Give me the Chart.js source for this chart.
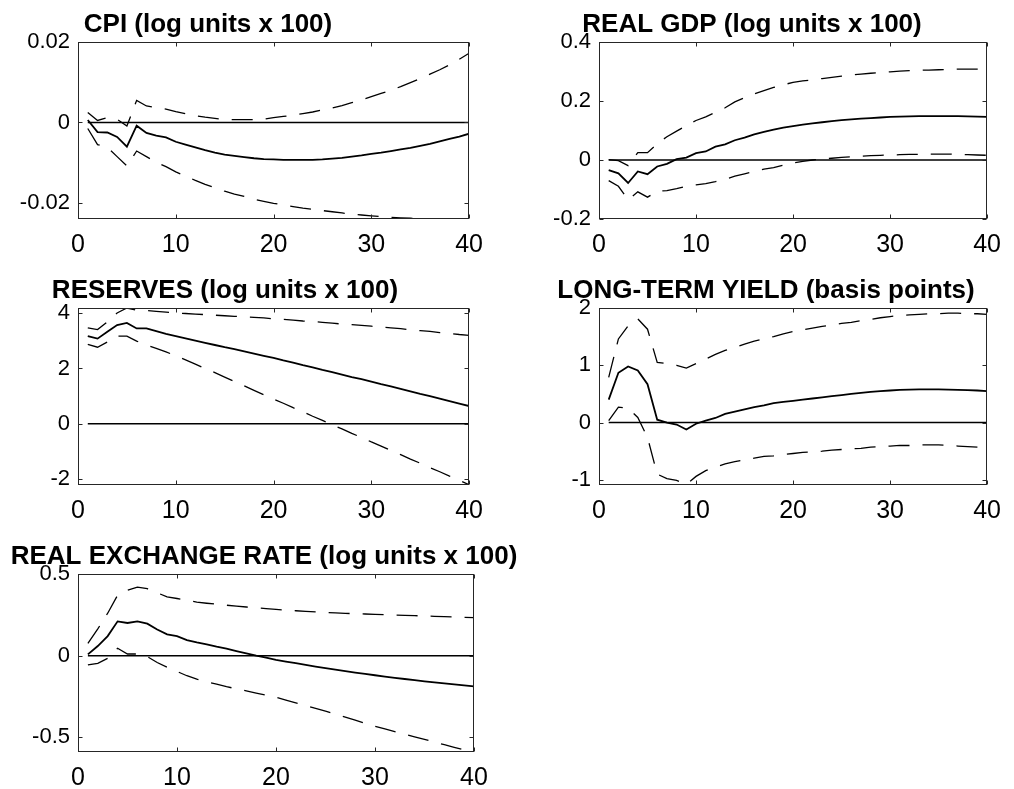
<!DOCTYPE html>
<html>
<head>
<meta charset="utf-8">
<script src="https://cdn.jsdelivr.net/npm/chart.js@4.4.1/dist/chart.umd.min.js"></script>
<style>
  body { margin: 0; background: #fff; width: 1014px; height: 789px; position: relative; overflow: hidden; }
  canvas { position: absolute; }
</style>
</head>
<body>
<script>
const periods = [1,2,3,4,5,6,7,8,9,10,11,12,13,14,15,16,17,18,19,20,21,22,23,24,25,26,27,28,29,30,31,32,33,34,35,36,37,38,39,40];
const xTicks = [0, 10, 20, 30, 40];
const zeroLine = [{x: 1, y: 0}, {x: 40, y: 0}];

// CPI
const cpiMid = [0.0006,-0.0024,-0.0025,-0.0036,-0.0060,-0.0008,-0.0026,-0.0033,-0.0037,-0.0048,-0.0055,-0.0062,-0.0069,-0.0075,-0.0080,-0.0083,-0.0086,-0.0089,-0.0091,-0.0092,-0.0093,-0.0093,-0.0093,-0.0093,-0.0092,-0.0090,-0.0088,-0.0085,-0.0082,-0.0078,-0.0075,-0.0071,-0.0067,-0.0063,-0.0058,-0.0053,-0.0047,-0.0041,-0.0035,-0.0028];
const cpiUp = [0.0025,0.0005,0.0012,0.0008,-0.0009,0.0055,0.0041,0.0037,0.0033,0.0027,0.0022,0.0017,0.0013,0.0010,0.0007,0.0007,0.0007,0.0007,0.0008,0.0012,0.0015,0.0018,0.0022,0.0026,0.0031,0.0036,0.0042,0.0049,0.0056,0.0064,0.0072,0.0080,0.0089,0.0099,0.0109,0.0120,0.0131,0.0143,0.0157,0.0172];
const cpiLow = [-0.0015,-0.0055,-0.0062,-0.0085,-0.0108,-0.0071,-0.0085,-0.0099,-0.0110,-0.0123,-0.0133,-0.0144,-0.0154,-0.0162,-0.0171,-0.0178,-0.0184,-0.0191,-0.0196,-0.0201,-0.0205,-0.0209,-0.0213,-0.0216,-0.0219,-0.0222,-0.0225,-0.0228,-0.0230,-0.0232,-0.0234,-0.0236,-0.0237,-0.0238,-0.0239,-0.0239,-0.0239,-0.0239,-0.0239,-0.0239];
const cpiTicks = [-0.02, 0, 0.02];

// REAL GDP
const gdpMid = [-0.034,-0.045,-0.078,-0.039,-0.048,-0.022,-0.013,0.003,0.008,0.023,0.029,0.045,0.053,0.067,0.076,0.087,0.095,0.103,0.110,0.115,0.120,0.124,0.128,0.132,0.135,0.138,0.140,0.142,0.144,0.146,0.147,0.148,0.149,0.149,0.149,0.149,0.149,0.148,0.147,0.146];
const gdpUp = [0.001,-0.002,-0.019,0.025,0.025,0.055,0.079,0.098,0.116,0.134,0.146,0.162,0.177,0.197,0.211,0.224,0.235,0.246,0.255,0.263,0.268,0.272,0.276,0.280,0.284,0.288,0.291,0.294,0.297,0.299,0.301,0.303,0.304,0.305,0.306,0.307,0.308,0.308,0.308,0.308];
const gdpLow = [-0.070,-0.089,-0.135,-0.108,-0.126,-0.106,-0.104,-0.097,-0.089,-0.084,-0.080,-0.073,-0.065,-0.055,-0.047,-0.039,-0.031,-0.026,-0.017,-0.010,-0.005,0.000,0.003,0.006,0.009,0.011,0.013,0.015,0.016,0.017,0.018,0.019,0.019,0.020,0.020,0.020,0.019,0.018,0.017,0.016];
const gdpTicks = [-0.2, 0, 0.2, 0.4];

// RESERVES
const resMid = [3.17,3.08,3.33,3.57,3.65,3.45,3.45,3.35,3.25,3.17,3.09,3.01,2.93,2.85,2.77,2.70,2.62,2.54,2.46,2.38,2.29,2.21,2.12,2.04,1.95,1.87,1.78,1.69,1.61,1.52,1.43,1.35,1.26,1.17,1.08,1.00,0.91,0.82,0.73,0.64];
const resUp = [3.47,3.41,3.69,4.01,4.19,4.11,4.10,4.07,4.04,4.01,3.99,3.97,3.95,3.93,3.91,3.89,3.87,3.85,3.83,3.80,3.78,3.75,3.72,3.70,3.67,3.64,3.61,3.59,3.56,3.53,3.50,3.47,3.44,3.40,3.37,3.34,3.30,3.27,3.23,3.20];
const resLow = [2.87,2.77,2.96,3.17,3.17,2.99,2.85,2.73,2.60,2.46,2.31,2.16,2.00,1.85,1.69,1.53,1.37,1.21,1.05,0.89,0.74,0.58,0.43,0.27,0.12,-0.04,-0.19,-0.35,-0.50,-0.66,-0.81,-0.97,-1.12,-1.28,-1.43,-1.59,-1.74,-1.90,-2.05,-2.21];
const resTicks = [-2, 0, 2, 4];

// LONG-TERM YIELD
const ltyMid = [0.40,0.87,0.98,0.91,0.67,0.05,0.00,-0.035,-0.12,-0.02,0.035,0.08,0.15,0.19,0.23,0.27,0.30,0.34,0.36,0.38,0.40,0.42,0.44,0.46,0.48,0.50,0.52,0.535,0.55,0.56,0.57,0.575,0.58,0.58,0.58,0.575,0.57,0.565,0.56,0.55];
const ltyUp = [0.79,1.46,1.69,1.81,1.63,1.05,1.03,1.00,0.95,1.03,1.11,1.19,1.26,1.31,1.37,1.42,1.46,1.50,1.55,1.59,1.62,1.65,1.68,1.70,1.73,1.75,1.78,1.80,1.83,1.85,1.87,1.88,1.89,1.90,1.90,1.91,1.91,1.90,1.90,1.89];
const ltyLow = [0.035,0.27,0.25,0.09,-0.26,-0.90,-0.98,-1.01,-1.08,-0.94,-0.84,-0.78,-0.72,-0.68,-0.65,-0.62,-0.59,-0.58,-0.56,-0.54,-0.52,-0.51,-0.50,-0.48,-0.47,-0.46,-0.45,-0.43,-0.42,-0.41,-0.40,-0.40,-0.39,-0.39,-0.39,-0.40,-0.41,-0.42,-0.43,-0.44];
const ltyTicks = [-1, 0, 1, 2];

// REAL EXCHANGE RATE
const rerMid = [0.008,0.059,0.12,0.21,0.20,0.21,0.196,0.16,0.13,0.12,0.095,0.081,0.069,0.055,0.043,0.028,0.014,0.0,-0.012,-0.026,-0.036,-0.046,-0.057,-0.067,-0.077,-0.086,-0.095,-0.104,-0.112,-0.120,-0.128,-0.136,-0.143,-0.150,-0.157,-0.164,-0.170,-0.176,-0.182,-0.188];
const rerUp = [0.075,0.164,0.26,0.37,0.40,0.42,0.41,0.385,0.36,0.35,0.338,0.328,0.321,0.315,0.309,0.303,0.298,0.293,0.288,0.283,0.279,0.275,0.271,0.268,0.265,0.262,0.259,0.257,0.255,0.253,0.251,0.249,0.247,0.245,0.243,0.241,0.239,0.237,0.235,0.233];
const rerLow = [-0.057,-0.047,-0.016,0.045,0.01,0.01,-0.006,-0.042,-0.071,-0.097,-0.123,-0.144,-0.160,-0.175,-0.190,-0.203,-0.216,-0.229,-0.242,-0.255,-0.272,-0.289,-0.306,-0.323,-0.340,-0.358,-0.376,-0.395,-0.414,-0.433,-0.449,-0.465,-0.481,-0.497,-0.513,-0.529,-0.545,-0.561,-0.577,-0.59];
const rerTicks = [-0.5, 0, 0.5];

const FONT = '"Liberation Sans", Arial, Helvetica, sans-serif';

// axes box with inward ticks on all sides, plus the panel title
const frame = {
  id: 'frame',
  afterDatasetsDraw(chart, args, opts) {
    const {ctx, chartArea: a, scales} = chart;
    const l = Math.round(a.left) + 0.5, r = Math.round(a.right) - 0.5;
    const t = Math.round(a.top) + 0.5, b = Math.round(a.bottom) - 0.5;
    ctx.save();
    ctx.strokeStyle = '#262626';
    ctx.lineWidth = 1;
    ctx.strokeRect(l, t, r - l, b - t);
    ctx.beginPath();
    scales.x.ticks.forEach(tk => {
      const px = Math.round(scales.x.getPixelForValue(tk.value)) + 0.5;
      ctx.moveTo(px, b); ctx.lineTo(px, b - 4);
      ctx.moveTo(px, t); ctx.lineTo(px, t + 4);
    });
    scales.y.ticks.forEach(tk => {
      const py = Math.round(scales.y.getPixelForValue(tk.value)) + 0.5;
      ctx.moveTo(l, py); ctx.lineTo(l + 4, py);
      ctx.moveTo(r, py); ctx.lineTo(r - 4, py);
    });
    ctx.stroke();
    ctx.fillStyle = '#000';
    ctx.font = 'bold 26px ' + FONT;
    ctx.textAlign = 'center';
    ctx.textBaseline = 'alphabetic';
    ctx.fillText(opts.text, a.left + opts.cx, a.top - 10);
    ctx.restore();
  }
};

const panels = [
  {title: 'CPI (log units x 100)', mid: cpiMid, up: cpiUp, low: cpiLow, yMin: -0.024, yMax: 0.02, yTicks: cpiTicks, L: 78, T: 42, W: 396, H: 177, rp: 20, tc: 208},
  {title: 'REAL GDP (log units x 100)', mid: gdpMid, up: gdpUp, low: gdpLow, yMin: -0.2, yMax: 0.4, yTicks: gdpTicks, L: 599, T: 42, W: 399, H: 177, rp: 14, tc: 752},
  {title: 'RESERVES (log units x 100)', mid: resMid, up: resUp, low: resLow, yMin: -2.22, yMax: 4.19, yTicks: resTicks, L: 78, T: 308, W: 396, H: 177, rp: 20, tc: 225},
  {title: 'LONG-TERM YIELD (basis points)', mid: ltyMid, up: ltyUp, low: ltyLow, yMin: -1.09, yMax: 2, yTicks: ltyTicks, L: 599, T: 308, W: 399, H: 177, rp: 14, tc: 766},
  {title: 'REAL EXCHANGE RATE (log units x 100)', mid: rerMid, up: rerUp, low: rerLow, yMin: -0.59, yMax: 0.5, yTicks: rerTicks, L: 78, T: 574, W: 396, H: 178, rp: 60, tc: 264}
];

const toXY = arr => periods.map((p, i) => ({x: p, y: arr[i]}));

panels.forEach(p => {
  const cv = document.createElement('canvas');
  cv.width = 78 + p.W + p.rp;
  cv.height = 42 + p.H + 45;
  cv.style.left = (p.L - 78) + 'px';
  cv.style.top = (p.T - 42) + 'px';
  document.body.appendChild(cv);

  new Chart(cv, {
    type: 'line',
    data: {
      datasets: [
        {data: toXY(p.up), borderColor: '#000', borderWidth: 1.3, borderDash: [21, 13]},
        {data: toXY(p.low), borderColor: '#000', borderWidth: 1.3, borderDash: [21, 13]},
        {data: zeroLine, borderColor: '#000', borderWidth: 1.5},
        {data: toXY(p.mid), borderColor: '#000', borderWidth: 1.8}
      ]
    },
    options: {
      responsive: false,
      animation: false,
      layout: {padding: {top: 42, right: p.rp, left: 0, bottom: 0}},
      elements: {point: {radius: 0}, line: {tension: 0}},
      plugins: {
        legend: {display: false},
        tooltip: {enabled: false},
        frame: {text: p.title, cx: p.tc - p.L}
      },
      scales: {
        x: {
          type: 'linear', bounds: 'data', min: 0, max: 40,
          grid: {display: false, drawTicks: false},
          border: {display: false},
          afterBuildTicks: s => { s.ticks = xTicks.map(v => ({value: v})); },
          afterFit: s => { s.height = 45; },
          ticks: {autoSkip: false, maxRotation: 0, padding: 11, color: '#000',
                  font: {family: FONT, size: 25}, callback: v => String(v)}
        },
        y: {
          type: 'linear', bounds: 'data', min: p.yMin, max: p.yMax,
          grid: {display: false, drawTicks: false},
          border: {display: false},
          afterBuildTicks: s => { s.ticks = p.yTicks.map(v => ({value: v})); },
          afterFit: s => { s.width = 78; },
          ticks: {autoSkip: false, padding: 8, color: '#000',
                  font: {family: FONT, size: 22}, callback: v => String(v)}
        }
      }
    },
    plugins: [frame]
  });
});
</script>
</body>
</html>
